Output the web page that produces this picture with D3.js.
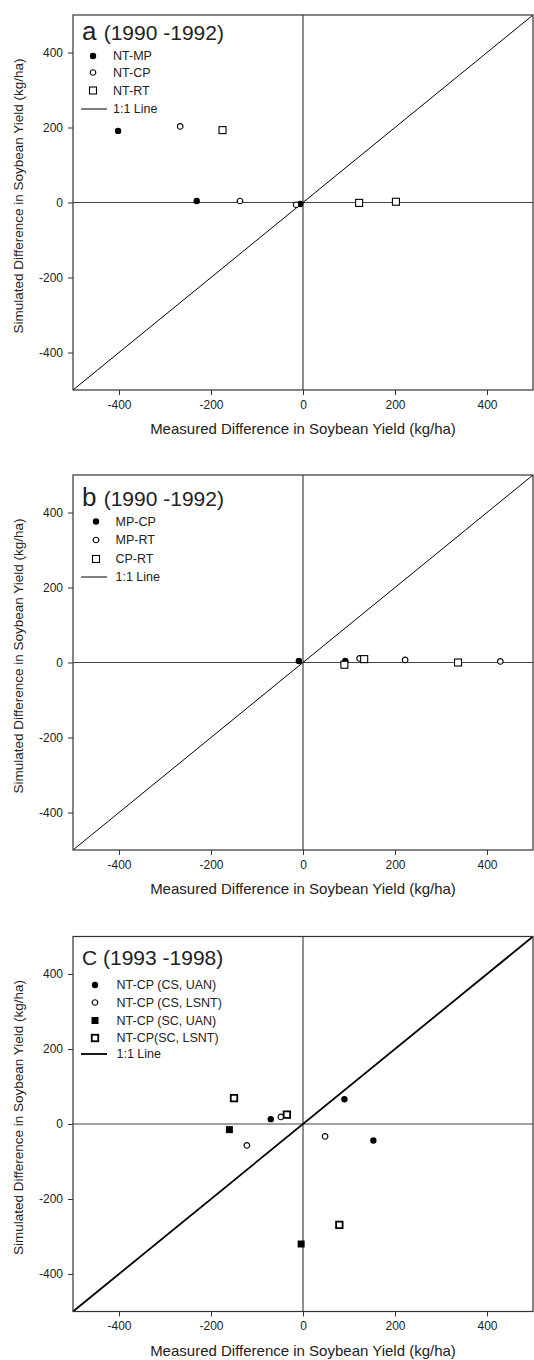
<!DOCTYPE html>
<html>
<head>
<meta charset="utf-8">
<script src="https://cdn.jsdelivr.net/npm/d3@7"></script>
<style>
  body { margin: 0; background: #fff; }
  text { font-family: "Liberation Sans", Arial, Helvetica, sans-serif; fill: #222; }
</style>
</head>
<body>
<svg id="chart" width="534" height="1360"></svg>
<script>
// axis ticks, shared by every panel
var ticks = [-400, -200, 0, 200, 400];

// panel a (1990 -1992) : [measured, simulated]
var aNtMp = [[-402, 191], [-231, 4], [-6, -4]];
var aNtCp = [[-267, 203], [-137, 4], [-15, -6]];
var aNtRt = [[-175, 193], [122, -1], [202, 2]];
var aLabels = ["NT-MP", "NT-CP", "NT-RT", "1:1 Line"];

// panel b (1990 -1992)
var bMpCp = [[-9, 4], [92, 4]];
var bMpRt = [[123, 11], [222, 7], [429, 3]];
var bCpRt = [[133, 9], [90, -6], [337, 0]];
var bLabels = ["MP-CP", "MP-RT", "CP-RT", "1:1 Line"];

// panel c (1993 -1998)
var cCsUan = [[-70, 13], [90, 66], [153, -44]];
var cCsLsnt = [[-48, 19], [-122, -57], [48, -33]];
var cScUan = [[-160, -15], [-4, -320]];
var cScLsnt = [[-150, 69], [-35, 25], [79, -269]];
var cLabels = ["NT-CP (CS, UAN)", "NT-CP (CS, LSNT)", "NT-CP (SC, UAN)", "NT-CP(SC, LSNT)", "1:1 Line"];

var svg = d3.select("#chart");

function marker(sel, kind, heavy) {
    if (kind == "fc") {
        sel.append("circle").attr("r", 3.2).attr("fill", "#000");
    } else if (kind == "oc") {
        sel.append("circle").attr("r", 2.8).attr("fill", "#fff").attr("stroke", "#000").attr("stroke-width", 1.1);
    } else if (kind == "fs") {
        sel.append("rect").attr("x", -3.5).attr("y", -3.5).attr("width", 7).attr("height", 7).attr("fill", "#000");
    } else {
        var s = heavy ? 6.5 : 7;
        sel.append("rect").attr("x", -s / 2).attr("y", -s / 2).attr("width", s).attr("height", s)
            .attr("fill", "#fff").attr("stroke", "#000").attr("stroke-width", heavy ? 1.8 : 1.1);
    }
}

function drawPanel(p) {
    var x = d3.scaleLinear().domain([-500, 500]).range([73, 533]);
    var y = d3.scaleLinear().domain([-500, 500]).range([p.top + 375, p.top]);
    var g = svg.append("g");

    // zero lines
    g.append("line").attr("x1", x(-500)).attr("x2", x(500)).attr("y1", y(0)).attr("y2", y(0))
        .attr("stroke", "#444").attr("stroke-width", 1.2);
    g.append("line").attr("x1", x(0)).attr("x2", x(0)).attr("y1", y(-500)).attr("y2", y(500))
        .attr("stroke", "#444").attr("stroke-width", 1.2);

    // 1:1 line
    g.append("line").attr("x1", x(-500)).attr("y1", y(-500)).attr("x2", x(500)).attr("y2", y(500))
        .attr("stroke", "#000").attr("stroke-width", p.heavy ? 1.8 : 1);

    // frame
    g.append("rect").attr("x", x(-500)).attr("y", y(500)).attr("width", x(500) - x(-500)).attr("height", y(-500) - y(500))
        .attr("fill", "none").attr("stroke", "#333").attr("stroke-width", 1.2);

    var fmt = function (d) { return String(d); };   // plain hyphen like the original
    var xAxis = d3.axisBottom(x).tickValues(ticks).tickFormat(fmt).tickSize(5).tickPadding(5);
    var yAxis = d3.axisLeft(y).tickValues(ticks).tickFormat(fmt).tickSize(5).tickPadding(5);

    var gx = g.append("g").attr("transform", "translate(0," + y(-500) + ")").call(xAxis);
    var gy = g.append("g").attr("transform", "translate(" + x(-500) + ",0)").call(yAxis);
    [gx, gy].forEach(function (a) {
        a.select(".domain").remove();
        a.selectAll(".tick line").attr("stroke", "#333");
        a.selectAll(".tick text").attr("font-size", 12).style("font-family", "Liberation Sans, Arial, sans-serif").attr("fill", "#222");
    });

    g.append("text").attr("x", (x(-500) + x(500)) / 2).attr("y", y(-500) + 44)
        .attr("text-anchor", "middle").attr("font-size", 15)
        .text("Measured Difference in Soybean Yield (kg/ha)");
    g.append("text")
        .attr("transform", "translate(23," + (p.top + 187 - 6) + ") rotate(-90)")
        .attr("text-anchor", "middle").attr("font-size", 13.5)
        .text("Simulated Difference in Soybean Yield (kg/ha)");

    // panel title
    var t = g.append("text").attr("x", 82).attr("y", p.top + p.titleDy);
    t.append("tspan").attr("font-size", p.letterSize).text(p.letter + " ");
    t.append("tspan").attr("font-size", 21).text(p.period);

    // points
    p.series.forEach(function (s) {
        s.data.forEach(function (d) {
            var m = g.append("g").attr("transform", "translate(" + x(d[0]) + "," + y(d[1]) + ")");
            marker(m, s.kind, p.heavy);
        });
    });

    // legend
    p.labels.forEach(function (lab, i) {
        var ly = p.top + p.legendDy[i];
        if (i < p.series.length) {
            var m = g.append("g").attr("transform", "translate(" + p.symX + "," + ly + ")");
            marker(m, p.series[i].kind, p.heavy);
        } else {
            g.append("line").attr("x1", 81).attr("x2", 107).attr("y1", ly).attr("y2", ly)
                .attr("stroke", "#000").attr("stroke-width", p.heavy ? 1.8 : 1);
        }
        g.append("text").attr("x", p.textX).attr("y", ly).attr("dy", "0.35em")
            .attr("font-size", p.legendSize).text(lab);
    });
}

drawPanel({
    top: 15, letter: "a", letterSize: 26, period: "(1990 -1992)", titleDy: 25,
    series: [{kind: "fc", data: aNtMp}, {kind: "oc", data: aNtCp}, {kind: "os", data: aNtRt}],
    labels: aLabels, legendDy: [41, 57.5, 75.5, 94], symX: 93, textX: 113, legendSize: 12.5, heavy: false
});

drawPanel({
    top: 475, letter: "b", letterSize: 26, period: "(1990 -1992)", titleDy: 31,
    series: [{kind: "fc", data: bMpCp}, {kind: "oc", data: bMpRt}, {kind: "os", data: bCpRt}],
    labels: bLabels, legendDy: [46.5, 65, 84, 102], symX: 96, textX: 115.5, legendSize: 12.5, heavy: false
});

drawPanel({
    top: 936.5, letter: "C", letterSize: 21, period: "(1993 -1998)", titleDy: 28,
    series: [{kind: "fc", data: cCsUan}, {kind: "oc", data: cCsLsnt}, {kind: "fs", data: cScUan}, {kind: "os", data: cScLsnt}],
    labels: cLabels, legendDy: [48.5, 66, 84, 101.5, 117.5], symX: 95, textX: 116.5, legendSize: 12.5, heavy: true
});
</script>
</body>
</html>
